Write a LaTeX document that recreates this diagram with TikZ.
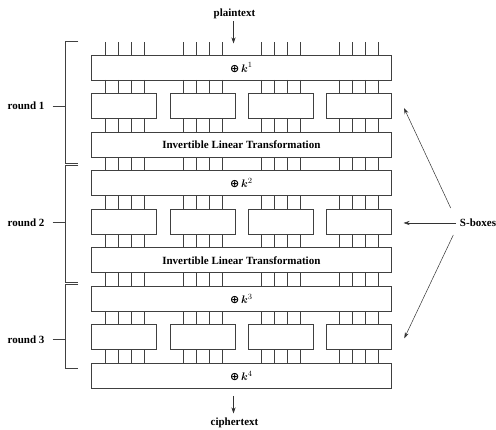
\documentclass[tikz,border=0pt]{standalone}
\usepackage{amsmath}
\usepackage{fontspec}
\setmainfont{Liberation Serif}
\newfontfamily\djv{DejaVu Sans}
\usetikzlibrary{arrows.meta,calc}
\newcommand{\xork}[1]{{\djv\bfseries ⊕}\,$\boldsymbol{k}^{#1}$}
\begin{document}
\begin{tikzpicture}[x=1pt,y=-1pt,
  every node/.style={font=\fontsize{11}{13}\selectfont\bfseries},
  bar/.style={draw=black!75,line width=0.8pt,minimum width=299.3pt,minimum height=25pt,inner sep=0pt,outer sep=0pt,anchor=north west},
  sbox/.style={draw=black!75,line width=0.8pt,minimum width=65pt,minimum height=25pt,inner sep=0pt,outer sep=0pt,anchor=north west},
  wire/.style={draw=black!75,line width=0.8pt},
  brk/.style={draw=black!75,line width=0.8pt},
  arr/.style={draw=black!80,line width=0.5pt,-{Stealth[length=6pt,width=4pt]}},
  lbl/.style={inner sep=0pt}]
\useasboundingbox (0,0) rectangle (496,430);
% wire x positions
\foreach \g [count=\gi from 0] in {124.5,202.5,280.5,358.5}{
  \foreach \o [count=\oi] in {-19.5,-6.5,6.5,19.5}{
    \pgfmathtruncatemacro{\n}{\gi*4+\oi}
    \coordinate (w\n) at (\g+\o,0);
  }}
% rows
\node[bar] (K1) at (91.7,55) {\xork{1}};
\foreach \c/\x in {a/91.7,b/170,c/248,d/326}{
  \node[sbox] (S1\c) at (\x,93.55) {};}
\node[bar] (L1) at (91.7,132.1) {Invertible Linear Transformation};
\node[bar] (K2) at (91.7,170.65) {\xork{2}};
\foreach \c/\x in {a/91.7,b/170,c/248,d/326}{
  \node[sbox] (S2\c) at (\x,209.2) {};}
\node[bar] (L2) at (91.7,247.75) {Invertible Linear Transformation};
\node[bar] (K3) at (91.7,286.3) {\xork{3}};
\foreach \c/\x in {a/91.7,b/170,c/248,d/326}{
  \node[sbox] (S3\c) at (\x,324.85) {};}
\node[bar] (K4) at (91.7,363.4) {\xork{4}};
% wires
\coordinate (wtop) at (0,42.3);
\foreach \i in {1,...,16}{\draw[wire] (wtop -| w\i) -- (K1.north -| w\i);}
\foreach \a/\b in {K1/S1a,S1a/L1,L1/K2,K2/S2a,S2a/L2,L2/K3,K3/S3a,S3a/K4}{
  \foreach \i in {1,...,16}{\draw[wire] (\a.south -| w\i) -- (\b.north -| w\i);}}
% plaintext / ciphertext
\node[lbl] (pt) at (234.5,14) {plaintext};
\coordinate (ptstart) at (233.5,21);
\coordinate (ptend) at (233.5,43.5);
\draw[arr] (ptstart) -- (ptend);
\node[lbl] (ct) at (234.5,423) {ciphertext};
\coordinate (ctstart) at (233.5,396);
\coordinate (ctend) at (233.5,413.5);
\draw[arr] (ctstart) -- (ctend);
% brackets
\draw[brk] (78.3,41.7) -- (65.7,41.7) -- (65.7,163.3) -- (78.3,163.3);
\draw[brk] (78.3,165) -- (65.7,165) -- (65.7,282.7) -- (78.3,282.7);
\draw[brk] (78.3,284.3) -- (65.7,284.3) -- (65.7,368.3) -- (78.3,368.3);
\node[lbl] (r1) at (26,106) {round 1};
\node[lbl] (r2) at (26,222.5) {round 2};
\node[lbl] (r3) at (26,339.3) {round 3};
\coordinate (b1) at (65.7,106);
\coordinate (b2) at (65.7,222.5);
\coordinate (b3) at (65.7,339.3);
\draw[brk] ([xshift=8pt]r1.east) -- (b1);
\draw[brk] ([xshift=8pt]r2.east) -- (b2);
\draw[brk] ([xshift=8pt]r3.east) -- (b3);
% S-boxes label and arrows
\node[lbl] (sb) at (478,223) {S-boxes};
\coordinate (a1) at (450.7,208);
\coordinate (a2) at (456,223);
\coordinate (a3) at (453.3,235);
\coordinate (t1) at (404,108);
\coordinate (t2) at (403.5,223);
\coordinate (t3) at (404.3,338.3);
\draw[arr] (a1) -- (t1);
\draw[arr] (a2) -- (t2);
\draw[arr] (a3) -- (t3);
\end{tikzpicture}
\end{document}
